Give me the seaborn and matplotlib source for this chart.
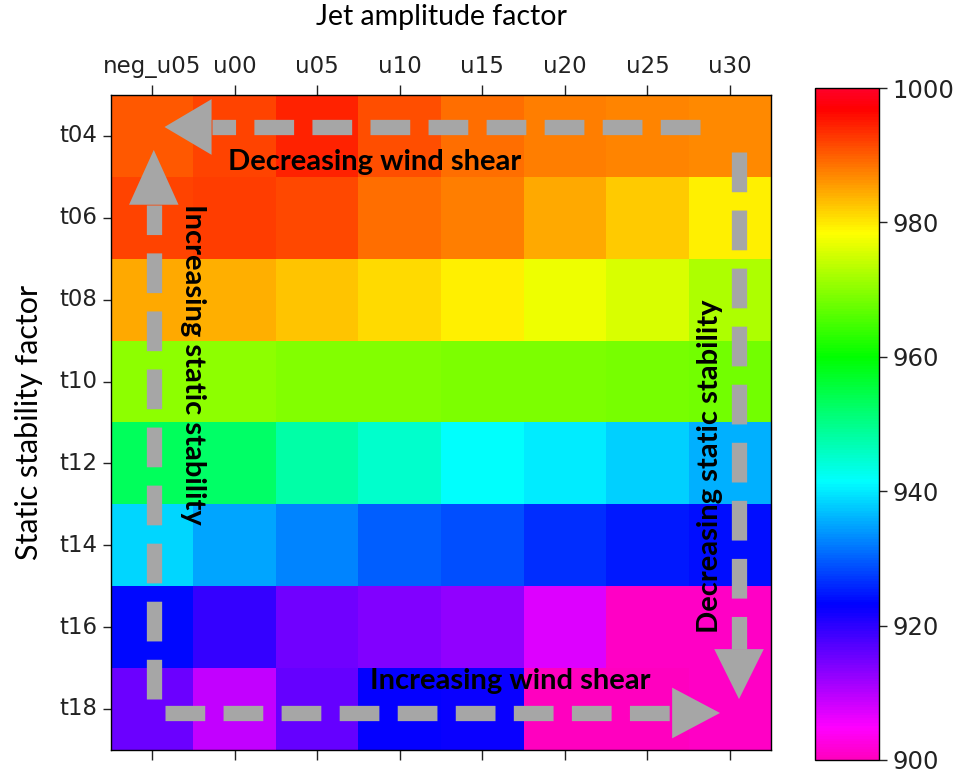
import numpy as np
import pandas as pd
import matplotlib
matplotlib.use('Agg')
import matplotlib.pyplot as plt
import seaborn as sns

# ===============================
# Data
# ===============================
jet_labels = ['neg_u05', 'u00', 'u05', 'u10', 'u15', 'u20', 'u25', 'u30']
stab_labels = ['t04', 't06', 't08', 't10', 't12', 't14', 't16', 't18']

row_t04 = [990.6, 992.0, 994.5, 991.3, 989.0, 987.7, 987.3, 987.0]
row_t06 = [992.0, 992.4, 991.7, 988.9, 987.7, 984.6, 982.2, 979.6]
row_t08 = [984.6, 984.0, 982.5, 981.0, 979.4, 977.2, 975.7, 972.3]
row_t10 = [970.0, 970.0, 969.5, 969.5, 969.0, 969.0, 968.5, 968.0]
row_t12 = [953.5, 952.5, 948.0, 945.0, 941.5, 940.0, 938.0, 935.7]
row_t14 = [938.6, 935.0, 932.8, 930.0, 928.7, 926.5, 924.8, 924.0]
row_t16 = [923.5, 919.5, 914.9, 913.8, 912.6, 907.4, 900.5, 900.5]
row_t18 = [915.6, 909.2, 915.8, 923.0, 922.5, 900.3, 900.3, 900.5]

values = pd.DataFrame([row_t04, row_t06, row_t08, row_t10,
                       row_t12, row_t14, row_t16, row_t18],
                      index=stab_labels, columns=jet_labels)

# ===============================
# Figure
# ===============================
fig = plt.figure(figsize=(9.64, 7.73), dpi=100)
ax = fig.add_axes([0.115, 0.030, 0.685, 0.847])
cax = fig.add_axes([0.845, 0.017, 0.067, 0.869])

sns.heatmap(values, cmap='gist_rainbow_r', vmin=900, vmax=1000,
            ax=ax, cbar_ax=cax)

# axes frame + ticks
for s in ax.spines.values():
    s.set_visible(True)
    s.set_color('black')
    s.set_linewidth(1)
ax.xaxis.tick_top()
ax.xaxis.set_label_position('top')
ax.tick_params(axis='x', top=True, bottom=True, labeltop=True, labelbottom=False,
               length=7, width=1, labelsize=16.5, colors='#222222', pad=5)
ax.tick_params(axis='y', left=True, length=6, width=1, labelsize=16.5, colors='#222222')
plt.setp(ax.get_yticklabels(), rotation=0)
plt.setp(ax.get_xticklabels(), rotation=0)
ax.set_xlabel('Jet amplitude factor', fontsize=20.5, family='Lato', labelpad=22)
ax.set_ylabel('Static stability factor', fontsize=22, family='Lato', labelpad=12)

# colorbar
cb = ax.collections[0].colorbar
cb.outline.set_linewidth(1)
cb.outline.set_edgecolor('black')
cb.set_ticks([900, 920, 940, 960, 980, 1000])
cax.tick_params(labelsize=17.5, length=6, width=1, colors='#222222')

# ===============================
# Dashed arrows + labels
# ===============================
grey = '#a6a6a6'
dash = (0, (2.6, 1.2))

def dashed_arrow(x0, y0, x1, y1, head):
    ax.plot([x0, x1], [y0, y1], color=grey, lw=11, linestyle=dash,
            solid_capstyle='butt', dash_capstyle='butt', zorder=3)
    ax.fill(head[0], head[1], color=grey, zorder=3, lw=0)

# top: right -> left
dashed_arrow(7.14, 0.39, 1.22, 0.39, ([0.65, 1.22, 1.22], [0.39, 0.05, 0.73]))
# left: bottom -> top
dashed_arrow(0.52, 7.38, 0.52, 1.34, ([0.52, 0.22, 0.82], [0.67, 1.34, 1.34]))
# right: top -> bottom
dashed_arrow(7.61, 0.70, 7.61, 6.77, ([7.61, 7.31, 7.91], [7.38, 6.77, 6.77]))
# bottom: left -> right
dashed_arrow(0.65, 7.55, 6.80, 7.55, ([7.38, 6.80, 6.80], [7.55, 7.24, 7.86]))

txt = dict(fontsize=21, fontweight='bold', family='Lato', color='black',
           ha='center', va='center', zorder=4)
ax.text(3.2, 0.82, 'Decreasing wind shear', **txt)
ax.text(4.84, 7.16, 'Increasing wind shear', **txt)
ax.text(0.99, 3.29, 'Increasing static stability', rotation=-90, **txt)
ax.text(7.26, 4.54, 'Decreasing static stability', rotation=90, **txt)

plt.savefig('out.png', dpi=100)
